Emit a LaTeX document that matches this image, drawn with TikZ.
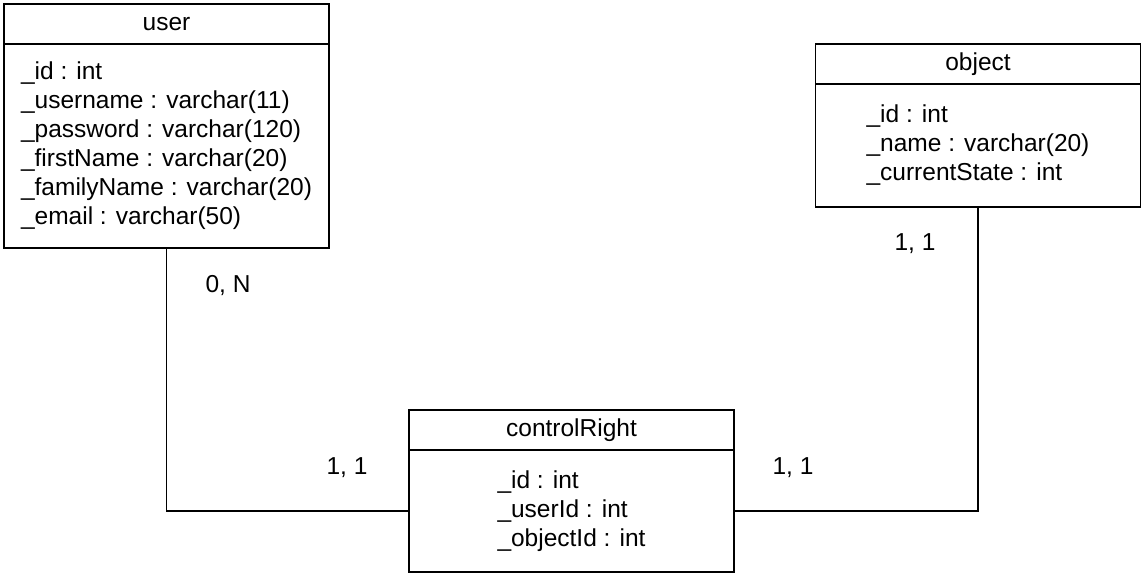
\documentclass[tikz,border=0pt]{standalone}
\usepackage{fontspec}
\setmainfont{Liberation Sans}
\usetikzlibrary{positioning}

\begin{document}
\begin{tikzpicture}[x=1pt,y=-1pt,
  every node/.style={font=\fontsize{24.5}{29}\selectfont},
  tblhead/.style={draw,line width=1.6pt,minimum width=325pt,minimum height=40pt,inner sep=0pt,outer sep=0pt},
  tblbody/.style={draw,line width=1.6pt,minimum width=325pt,align=left,inner sep=0pt,outer sep=0pt},
  link/.style={line width=1.6pt}]
  \useasboundingbox (0,0) rectangle (1144,576);
  % user table
  \node[tblhead] (user) at (166.5,24) {user};
  \node[tblbody,minimum height=204pt,below=0pt of user] (userattr)
    {\_id : int\\ \_username : varchar(11)\\ \_password : varchar(120)\\
     \_firstName : varchar(20)\\ \_familyName : varchar(20)\\ \_email : varchar(50)};
  % object table
  \node[tblhead] (object) at (978,64) {object};
  \node[tblbody,minimum height=123pt,below=0pt of object] (objattr)
    {\_id : int\\ \_name : varchar(20)\\ \_currentState : int};
  % controlRight table
  \node[tblhead] (ctrl) at (571.5,430) {controlRight};
  \node[tblbody,minimum height=122pt,below=0pt of ctrl] (ctrlattr)
    {\_id : int\\ \_userId : int\\ \_objectId : int};

  % links
  \draw[link] (userattr.south) |- (ctrlattr.west);
  \draw[link] (objattr.south) |- (ctrlattr.east);

  % cardinalities
  \node (usercard) at (228,286) {0, N};
  \node (objcard) at (915,244) {1, 1};
  \node (ctrlcardl) at (347,468) {1, 1};
  \node (ctrlcardr) at (793,468) {1, 1};
\end{tikzpicture}
\end{document}
